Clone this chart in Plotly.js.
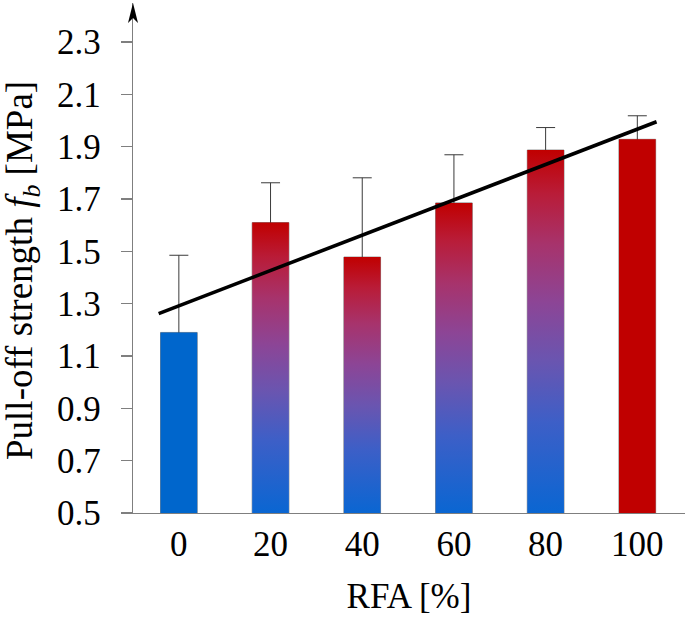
<!DOCTYPE html>
<html>
<head>
<meta charset="utf-8">
<script src="https://cdn.plot.ly/plotly-3.0.1.min.js"></script>
<style>html,body{margin:0;padding:0;background:#fff;}#chart{width:685px;height:623px;}</style>
</head>
<body>
<div id="chart"></div>
<script>
// ---- data ----
var categories = ['0', '20', '40', '60', '80', '100'];
var pullOff = [1.19, 1.61, 1.478, 1.685, 1.887, 1.928];
var pullOffSD = [0.295, 0.152, 0.303, 0.184, 0.086, 0.09];
// linear trend line endpoints (category index position, value)
var trendX = [-0.22, 5.21];
var trendY = [1.262, 1.995];
var yTicks = [0.5, 0.7, 0.9, 1.1, 1.3, 1.5, 1.7, 1.9, 2.1, 2.3];
var xTitle = 'RFA [%]';
var yTitle = 'Pull-off strength <i>f</i><sub><i>b</i></sub> [MPa]';

// ---- style ----
var BLUE = '#0066cc', RED = '#c00000';
var gradScale = [[0, '#0a66d2'], [0.25, '#3d5fc7'], [0.42, '#6a55b0'], [0.58, '#8c4596'], [0.74, '#a7336c'], [0.88, '#b91c38'], [1, '#c00000']];
var yMin = 0.5, yMax = 2.449;
var halfW = 0.2;
var FONT = 'Liberation Serif, Times New Roman, serif';

var traces = [];
var xIdx = categories.map(function (c, i) { return i; });

// gradient filled bars (polygons in data coordinates)
pullOff.forEach(function (v, i) {
  var t = {
    type: 'scatter', mode: 'lines', showlegend: false, hoverinfo: 'skip',
    x: [i - halfW, i + halfW, i + halfW, i - halfW, i - halfW],
    y: [yMin, yMin, v, v, yMin],
    fill: 'toself', line: {width: 0, color: 'rgba(0,0,0,0)'}
  };
  if (i === 0) { t.fillcolor = BLUE; }
  else if (i === pullOff.length - 1) { t.fillcolor = RED; }
  else { t.fillgradient = {type: 'vertical', colorscale: gradScale}; }
  traces.push(t);
});

// bar outlines with error bars
traces.push({
  type: 'bar', x: xIdx, y: pullOff, width: 2 * halfW, showlegend: false,
  marker: {color: 'rgba(0,0,0,0)', line: {color: '#8a8a8a', width: 1}},
  error_y: {type: 'data', array: pullOffSD, visible: true, color: '#3a3a3a', thickness: 1, width: 9.5}
});

// trend line
traces.push({
  type: 'scatter', mode: 'lines', x: trendX, y: trendY, showlegend: false,
  line: {color: '#000', width: 3.6}
});

var layout = {
  width: 685, height: 623,
  margin: {l: 133, r: 0, t: 3, b: 110, pad: 0},
  paper_bgcolor: '#fff', plot_bgcolor: '#fff',
  font: {family: FONT, size: 35, color: '#000'},
  showlegend: false,
  xaxis: {
    range: [-0.5, 5.52], tickmode: 'array', tickvals: xIdx, ticktext: categories,
    showgrid: false, zeroline: false, showline: true, linecolor: '#7f7f7f', linewidth: 1.2,
    ticks: '', ticklabelstandoff: 0,
    tickfont: {family: FONT, size: 35, color: '#000'},
    title: {text: xTitle, font: {family: FONT, size: 35, color: '#000'}, standoff: 20}
  },
  yaxis: {
    range: [yMin, yMax], tickmode: 'array', tickvals: yTicks,
    ticktext: yTicks.map(function (v) { return v.toFixed(1); }),
    showgrid: false, zeroline: false, showline: true, linecolor: '#7f7f7f', linewidth: 1.2,
    ticks: 'outside', ticklen: 11, tickcolor: '#7f7f7f', tickwidth: 1.2,
    ticklabelstandoff: 13,
    tickfont: {family: FONT, size: 35, color: '#000'}
  },
  annotations: [{
    text: yTitle, textangle: -90, showarrow: false,
    xref: 'paper', yref: 'paper', x: 0, y: 0.5, xanchor: 'center', yanchor: 'middle',
    xshift: -111, yshift: -13,
    font: {family: FONT, size: 37, color: '#000'}
  }],
  shapes: [{
    type: 'path', xref: 'paper', yref: 'paper', xsizemode: 'pixel', ysizemode: 'pixel',
    xanchor: 0, yanchor: 1,
    path: 'M -5 -20 L 0 0 L 5 -20 L 0 -15 Z',
    fillcolor: '#000', line: {width: 0}
  }]
};

Plotly.newPlot('chart', traces, layout, {displayModeBar: false, staticPlot: true});
</script>
</body>
</html>
